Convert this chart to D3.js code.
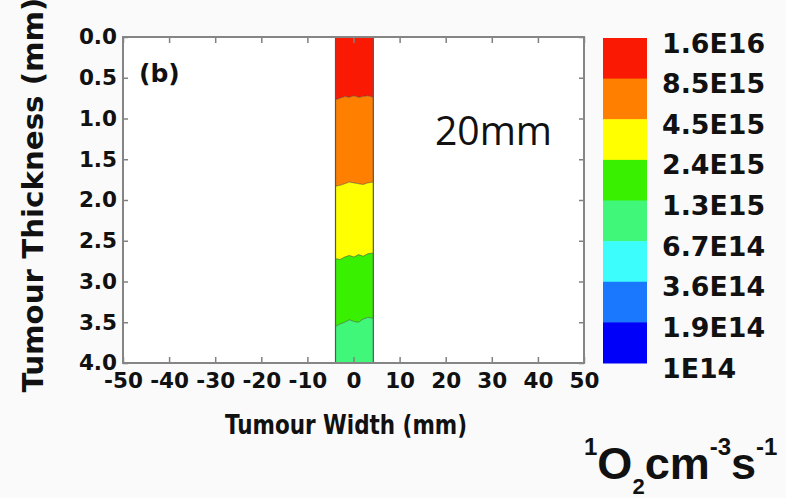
<!DOCTYPE html>
<meta charset="utf-8">
<style>

body {
  margin: 0;
  background: #fafafa;
}

text {
  font-family: "DejaVu Sans", sans-serif;
  font-weight: bold;
  fill: #111;
}

.tick line {
  stroke: #808080;
  stroke-width: 1.5;
}

</style>
<body>
<script src="https://cdn.jsdelivr.net/npm/d3@7/dist/d3.min.js"></script>
<script>

// axis ticks
var xTicks = [-50, -40, -30, -20, -10, 0, 10, 20, 30, 40, 50];
var yTicks = [0, 0.5, 1.0, 1.5, 2.0, 2.5, 3.0, 3.5, 4.0];

// the coloured column: sample positions across it (mm) and the depth (mm)
// of each contour boundary at those positions
var bandX = [-3.9, -2.9, -1.9, -0.9, 0.1, 1.1, 2.1, 3.1, 4.3];
var edgeRedOrange    = [0.77, 0.75, 0.73, 0.74, 0.72, 0.74, 0.73, 0.72, 0.74];
var edgeOrangeYellow = [1.83, 1.82, 1.80, 1.78, 1.79, 1.80, 1.81, 1.79, 1.78];
var edgeYellowGreen  = [2.72, 2.73, 2.70, 2.68, 2.70, 2.67, 2.69, 2.66, 2.65];
var edgeGreenLight   = [3.55, 3.52, 3.50, 3.47, 3.49, 3.50, 3.46, 3.44, 3.45];
var bandColors = ["#fa1a04", "#ff7f00", "#ffff00", "#38f000", "#40f77a"];

// colour scale levels, top to bottom
var levelLabels = ["1.6E16", "8.5E15", "4.5E15", "2.4E15", "1.3E15",
                   "6.7E14", "3.6E14", "1.9E14", "1E14"];
var levelColors = ["#fa1a04", "#ff7f00", "#ffff00", "#38f000", "#40f77a",
                   "#3cfdfb", "#1a78ff", "#0000fa"];

var width = 786,
    height = 498;

var svg = d3.select("body").append("svg")
    .attr("width", width)
    .attr("height", height);

var x = d3.scaleLinear().domain([-50, 50]).range([123, 584]);
var y = d3.scaleLinear().domain([0, 4]).range([37, 363]);

svg.append("rect")
    .attr("x", x(-50)).attr("y", y(0))
    .attr("width", x(50) - x(-50)).attr("height", y(4) - y(0))
    .attr("fill", "#fff");

// contour regions
var edges = [bandX.map(function() { return 0; }),
             edgeRedOrange, edgeOrangeYellow, edgeYellowGreen, edgeGreenLight,
             bandX.map(function() { return 4; })];

var area = d3.area()
    .x(function(d, i) { return x(bandX[i]); });

bandColors.forEach(function(c, k) {
  svg.append("path")
      .datum(bandX)
      .attr("fill", c)
      .attr("d", area
          .y0(function(d, i) { return y(edges[k][i]); })
          .y1(function(d, i) { return y(edges[k + 1][i]); }));
});

var line = d3.line()
    .x(function(d, i) { return x(bandX[i]); })
    .y(function(d) { return y(d); });

edges.slice(1, 5).forEach(function(e) {
  svg.append("path")
      .datum(e)
      .attr("fill", "none")
      .attr("stroke", "#3a3a2a")
      .attr("stroke-opacity", 0.5)
      .attr("stroke-width", 1)
      .attr("d", line);
});

// column outline
svg.append("rect")
    .attr("x", x(bandX[0])).attr("y", y(0))
    .attr("width", x(bandX[bandX.length - 1]) - x(bandX[0]))
    .attr("height", y(4) - y(0))
    .attr("fill", "none")
    .attr("stroke", "#555")
    .attr("stroke-width", 1.2);

// axes, ticks pointing inwards
var fmt = d3.format(".1f");
var plain = function(d) { return String(d); };   // keep "-" not the unicode minus

svg.append("g")
    .attr("transform", "translate(" + x(-50) + ",0)")
    .call(d3.axisLeft(y).tickValues(yTicks).tickFormat(fmt)
        .tickSizeInner(-5).tickSizeOuter(0).tickPadding(6))
    .call(function(g) { g.select(".domain").remove(); })
    .selectAll("text").style("font-size", "21.5px");

svg.append("g")
    .attr("transform", "translate(0," + y(4) + ")")
    .call(d3.axisBottom(x).tickValues(xTicks).tickFormat(plain)
        .tickSizeInner(-6).tickSizeOuter(0).tickPadding(10))
    .call(function(g) { g.select(".domain").remove(); })
    .selectAll("text").style("font-size", "21.5px");

svg.append("g")
    .attr("transform", "translate(0," + y(0) + ")")
    .call(d3.axisTop(x).tickValues(xTicks).tickFormat("")
        .tickSizeInner(-6).tickSizeOuter(0))
    .call(function(g) { g.select(".domain").remove(); });

svg.append("g")
    .attr("transform", "translate(" + x(50) + ",0)")
    .call(d3.axisRight(y).tickValues(yTicks).tickFormat("")
        .tickSizeInner(-5).tickSizeOuter(0))
    .call(function(g) { g.select(".domain").remove(); });

// frame
svg.append("rect")
    .attr("x", x(-50)).attr("y", y(0))
    .attr("width", x(50) - x(-50)).attr("height", y(4) - y(0))
    .attr("fill", "none")
    .attr("stroke", "#858585")
    .attr("stroke-width", 2);

// titles
svg.append("text")
    .attr("transform", "translate(43,195) rotate(-90)")
    .attr("text-anchor", "middle")
    .attr("textLength", 395)
    .attr("lengthAdjust", "spacingAndGlyphs")
    .style("font-size", "28px")
    .text("Tumour Thickness (mm)");

svg.append("text")
    .attr("x", 346)
    .attr("y", 434)
    .attr("text-anchor", "middle")
    .attr("textLength", 242)
    .attr("lengthAdjust", "spacingAndGlyphs")
    .style("font-size", "27px")
    .text("Tumour Width (mm)");

svg.append("text")
    .attr("x", 139)
    .attr("y", 82)
    .style("font-size", "25px")
    .text("(b)");

svg.append("text")
    .attr("x", 435)
    .attr("y", 145)
    .attr("textLength", 117)
    .attr("lengthAdjust", "spacingAndGlyphs")
    .style("font-family", "'Open Sans', sans-serif")
    .style("font-weight", "normal")
    .style("font-size", "40px")
    .text("20mm");

// colour bar
var cb = d3.scaleBand()
    .domain(d3.range(levelColors.length))
    .range([38, 363]);

var cbLab = d3.scalePoint()
    .domain(levelLabels)
    .range([38, 363]);

svg.append("g").selectAll("rect")
    .data(levelColors)
  .enter().append("rect")
    .attr("x", 603)
    .attr("y", function(d, i) { return cb(i); })
    .attr("width", 44)
    .attr("height", cb.bandwidth() + 0.5)
    .attr("fill", function(d) { return d; });

svg.append("g").selectAll("text")
    .data(levelLabels)
  .enter().append("text")
    .attr("x", 662)
    .attr("y", function(d) { return cbLab(d) + 14.5; })
    .style("font-size", "26.8px")
    .text(function(d) { return d; });

// unit label
var unit = svg.append("text")
    .attr("x", 584)
    .attr("y", 479)
    .style("font-family", "'Liberation Sans', Arial, sans-serif")
    .style("font-size", "45px");

unit.append("tspan").attr("dy", -24).style("font-size", "24px").text("1");
unit.append("tspan").attr("dy", 24).text("O");
unit.append("tspan").attr("dy", 15).style("font-size", "22px").text("2");
unit.append("tspan").attr("dy", -15).text("cm");
unit.append("tspan").attr("dy", -24).style("font-size", "24px").text("-3");
unit.append("tspan").attr("dy", 24).text("s");
unit.append("tspan").attr("dy", -24).style("font-size", "24px").text("-1");

</script>
